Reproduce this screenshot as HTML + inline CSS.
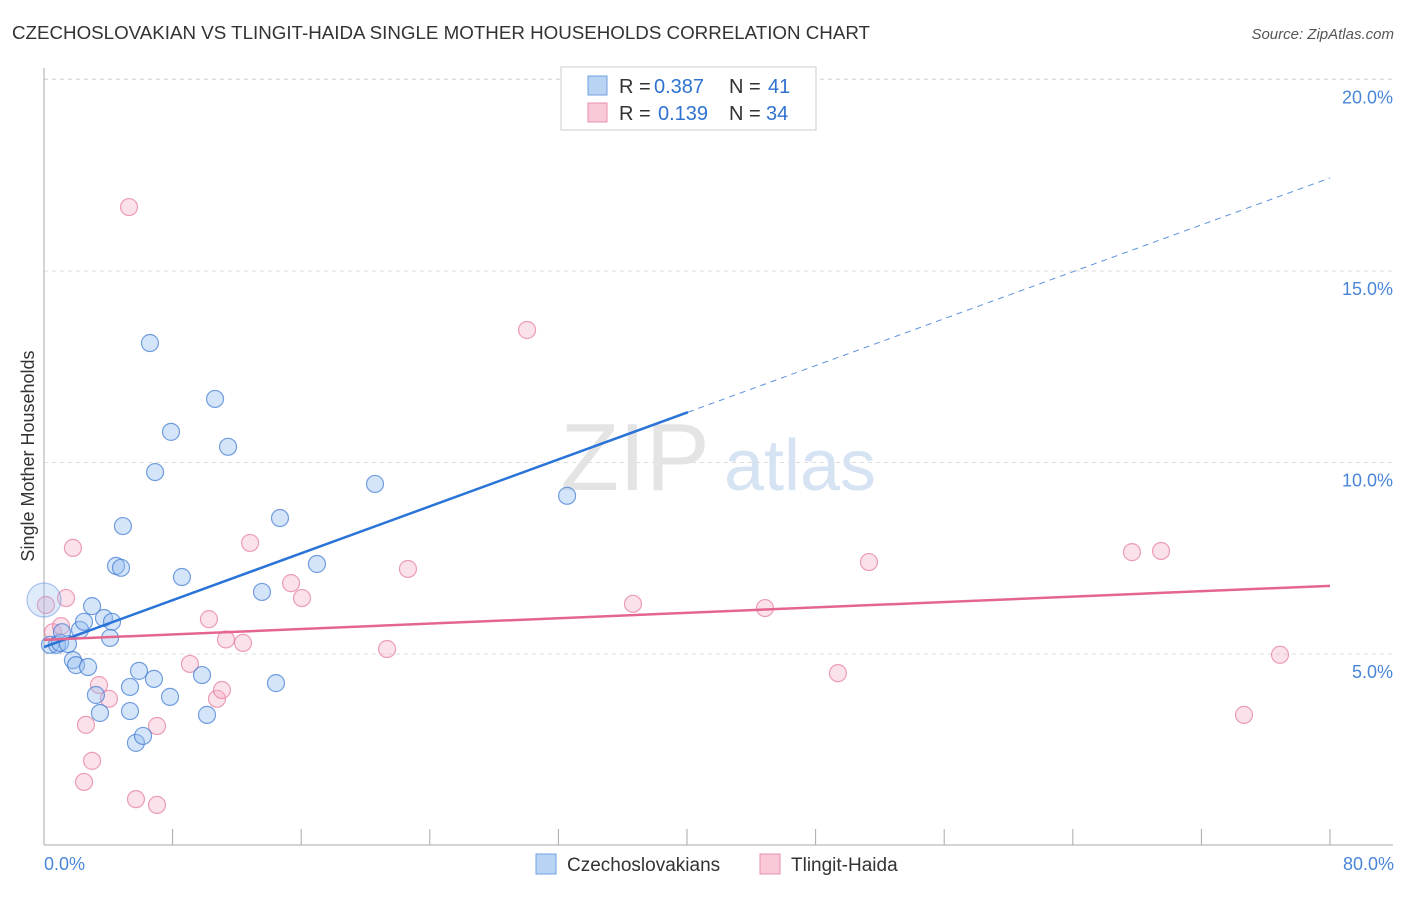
<!DOCTYPE html>
<html><head><meta charset="utf-8"><style>
body{margin:0;background:#fff;font-family:"Liberation Sans",sans-serif;}
svg text{font-family:"Liberation Sans",sans-serif;}
</style></head><body>
<svg width="1406" height="892" viewBox="0 0 1406 892">
<text x="12" y="39" font-size="18" fill="#333" textLength="858" lengthAdjust="spacingAndGlyphs">CZECHOSLOVAKIAN VS TLINGIT-HAIDA SINGLE MOTHER HOUSEHOLDS CORRELATION CHART</text>
<text x="1394" y="39" font-size="15" fill="#555" font-style="italic" text-anchor="end">Source: ZipAtlas.com</text>
<g id="grid"></g>
<text x="635" y="490" font-size="96" fill="#e4e4e4" font-family="Liberation Serif" text-anchor="middle">ZIP</text>
<text x="800" y="490" font-size="72" fill="#d6e3f3" text-anchor="middle">atlas</text>
<line x1="44" y1="68" x2="44" y2="845" stroke="#aaa"/>
<line x1="44" y1="845" x2="1393" y2="845" stroke="#aaa"/>
<g id="xticks"></g>
<g id="pts"></g>
<g id="trends"></g>
<text transform="translate(34,456) rotate(-90)" font-size="18" fill="#333" text-anchor="middle">Single Mother Households</text>
<text x="44" y="870" font-size="18" fill="#4a86d8">0.0%</text>
<text x="1394" y="870" font-size="18" fill="#4a86d8" text-anchor="end">80.0%</text>
<g>
<rect x="561" y="67" width="255" height="63" fill="#fff" stroke="#ccc"/>
<rect x="588" y="76" width="19" height="19" fill="#b9d3f3" stroke="#6f9fe0"/>
<rect x="588" y="103" width="19" height="19" fill="#f9c9d7" stroke="#e890ab"/>
<text x="619" y="93" font-size="20" fill="#333">R =</text>
<text x="654" y="93" font-size="20" fill="#2f72d0">0.387</text>
<text x="729" y="93" font-size="20" fill="#333">N =</text>
<text x="768" y="93" font-size="20" fill="#2f72d0">41</text>
<text x="619" y="120" font-size="20" fill="#333">R =</text>
<text x="658" y="120" font-size="20" fill="#2f72d0">0.139</text>
<text x="729" y="120" font-size="20" fill="#333">N =</text>
<text x="766" y="120" font-size="20" fill="#2f72d0">34</text>
</g>
<g>
<rect x="536" y="854" width="20" height="20" fill="#b9d3f3" stroke="#6f9fe0"/>
<text x="567" y="871" font-size="19" fill="#333">Czechoslovakians</text>
<rect x="760" y="854" width="20" height="20" fill="#f9c9d7" stroke="#e890ab"/>
<text x="791" y="871" font-size="19" fill="#333">Tlingit-Haida</text>
</g>
</svg>
<script>
const yTicks=[5,10,15,20];
const yTickLabels=["5.0%","10.0%","15.0%","20.0%"];
const xTickVals=[0,8,16,24,32,40,48,56,64,72,80];
const blueX=[0,0.37,0.81,1.0,1.49,1.12,2.24,2.49,2.99,3.73,4.23,4.11,1.80,1.99,2.74,3.23,3.48,4.48,4.79,4.91,5.35,5.35,5.72,6.16,5.91,6.84,7.84,6.59,7.90,6.91,8.58,9.83,10.14,10.64,11.45,13.56,14.43,14.68,16.98,20.59,32.54];
const blueY=[6.41,5.24,5.24,5.29,5.26,5.57,5.63,5.84,6.25,5.94,5.84,5.42,4.84,4.71,4.66,3.93,3.46,7.30,7.25,8.34,4.14,3.51,2.68,2.86,4.56,4.35,3.88,13.12,10.80,9.75,7.01,4.45,3.41,11.66,10.41,6.62,4.24,8.55,7.35,9.44,9.13];
const pinkX=[0.12,0.56,1.06,1.37,1.80,3.42,4.04,2.61,2.99,2.49,5.72,7.03,7.03,5.29,9.08,10.26,10.76,11.07,11.32,12.38,12.82,15.37,16.05,21.34,22.64,30.05,36.64,44.85,49.39,51.32,67.68,69.49,74.65,76.89];
const pinkY=[6.28,5.57,5.73,6.46,7.77,4.19,3.83,3.15,2.21,1.66,1.21,1.06,3.12,16.67,4.74,5.91,3.83,4.06,5.38,5.29,7.90,6.85,6.46,5.13,7.22,13.46,6.31,6.20,4.50,7.40,7.66,7.69,3.41,4.98];
const blueTrend=[5.18,17.43];
const blueSolidEnd=40.06;
const pinkTrend=[5.37,6.78];
const X=v=>44+v*16.075, Y=v=>845.5-v*38.3;
const NS="http://www.w3.org/2000/svg";
function mk(tag,attrs,parent){const e=document.createElementNS(NS,tag);for(const k in attrs)e.setAttribute(k,attrs[k]);parent.appendChild(e);return e;}
const grid=document.getElementById('grid');
mk('line',{x1:44,y1:79,x2:1393,y2:79,stroke:'#ddd','stroke-dasharray':'4,4'},grid);
yTicks.forEach((t,i)=>{
 const l=mk('line',{x1:44,y1:Y(t),x2:1393,y2:Y(t),stroke:'#ddd','stroke-dasharray':'4,4'},grid);
 
 
 const tx=mk('text',{x:1393,y:Y(t)+24,'font-size':18,fill:'#4a86d8','text-anchor':'end'},grid);
 tx.textContent=yTickLabels[i];
 
 
});
const xt=document.getElementById('xticks');
xTickVals.forEach(v=>{
 const l=mk('line',{x1:X(v),y1:829,x2:X(v),y2:845,stroke:'#aaa'},xt);
 
 
});
const pts=document.getElementById('pts');
pinkX.forEach((x,i)=>{
 const c=mk('circle',{cx:X(x),cy:Y(pinkY[i]),r:8.5,fill:'rgba(244,170,194,0.35)',stroke:'rgba(228,120,155,0.7)','stroke-width':1.2},pts);
 
 
});
blueX.forEach((x,i)=>{
 const big=i===0;
 const c=mk('circle',{cx:X(x),cy:Y(blueY[i]),r:big?17:8.5,fill:big?'rgba(150,190,240,0.3)':'rgba(150,190,240,0.4)',stroke:big?'rgba(60,120,210,0.4)':'rgba(60,120,210,0.7)','stroke-width':1.2},pts);
 
 
});
const tr=document.getElementById('trends');
const bAt=v=>blueTrend[0]+(blueTrend[1]-blueTrend[0])*v/80;
let l1=mk('line',{x1:X(0),y1:Y(bAt(0)),x2:X(blueSolidEnd),y2:Y(bAt(blueSolidEnd)),stroke:'#2a74d8','stroke-width':2.5},tr);


let l2=mk('line',{x1:X(blueSolidEnd),y1:Y(bAt(blueSolidEnd)),x2:X(80),y2:Y(bAt(80)),stroke:'#5b93dd','stroke-width':1,'stroke-dasharray':'6,5'},tr);


let l3=mk('line',{x1:X(0),y1:Y(pinkTrend[0]),x2:X(80),y2:Y(pinkTrend[1]),stroke:'#e4668f','stroke-width':2.5},tr);


</script>
</body></html>
